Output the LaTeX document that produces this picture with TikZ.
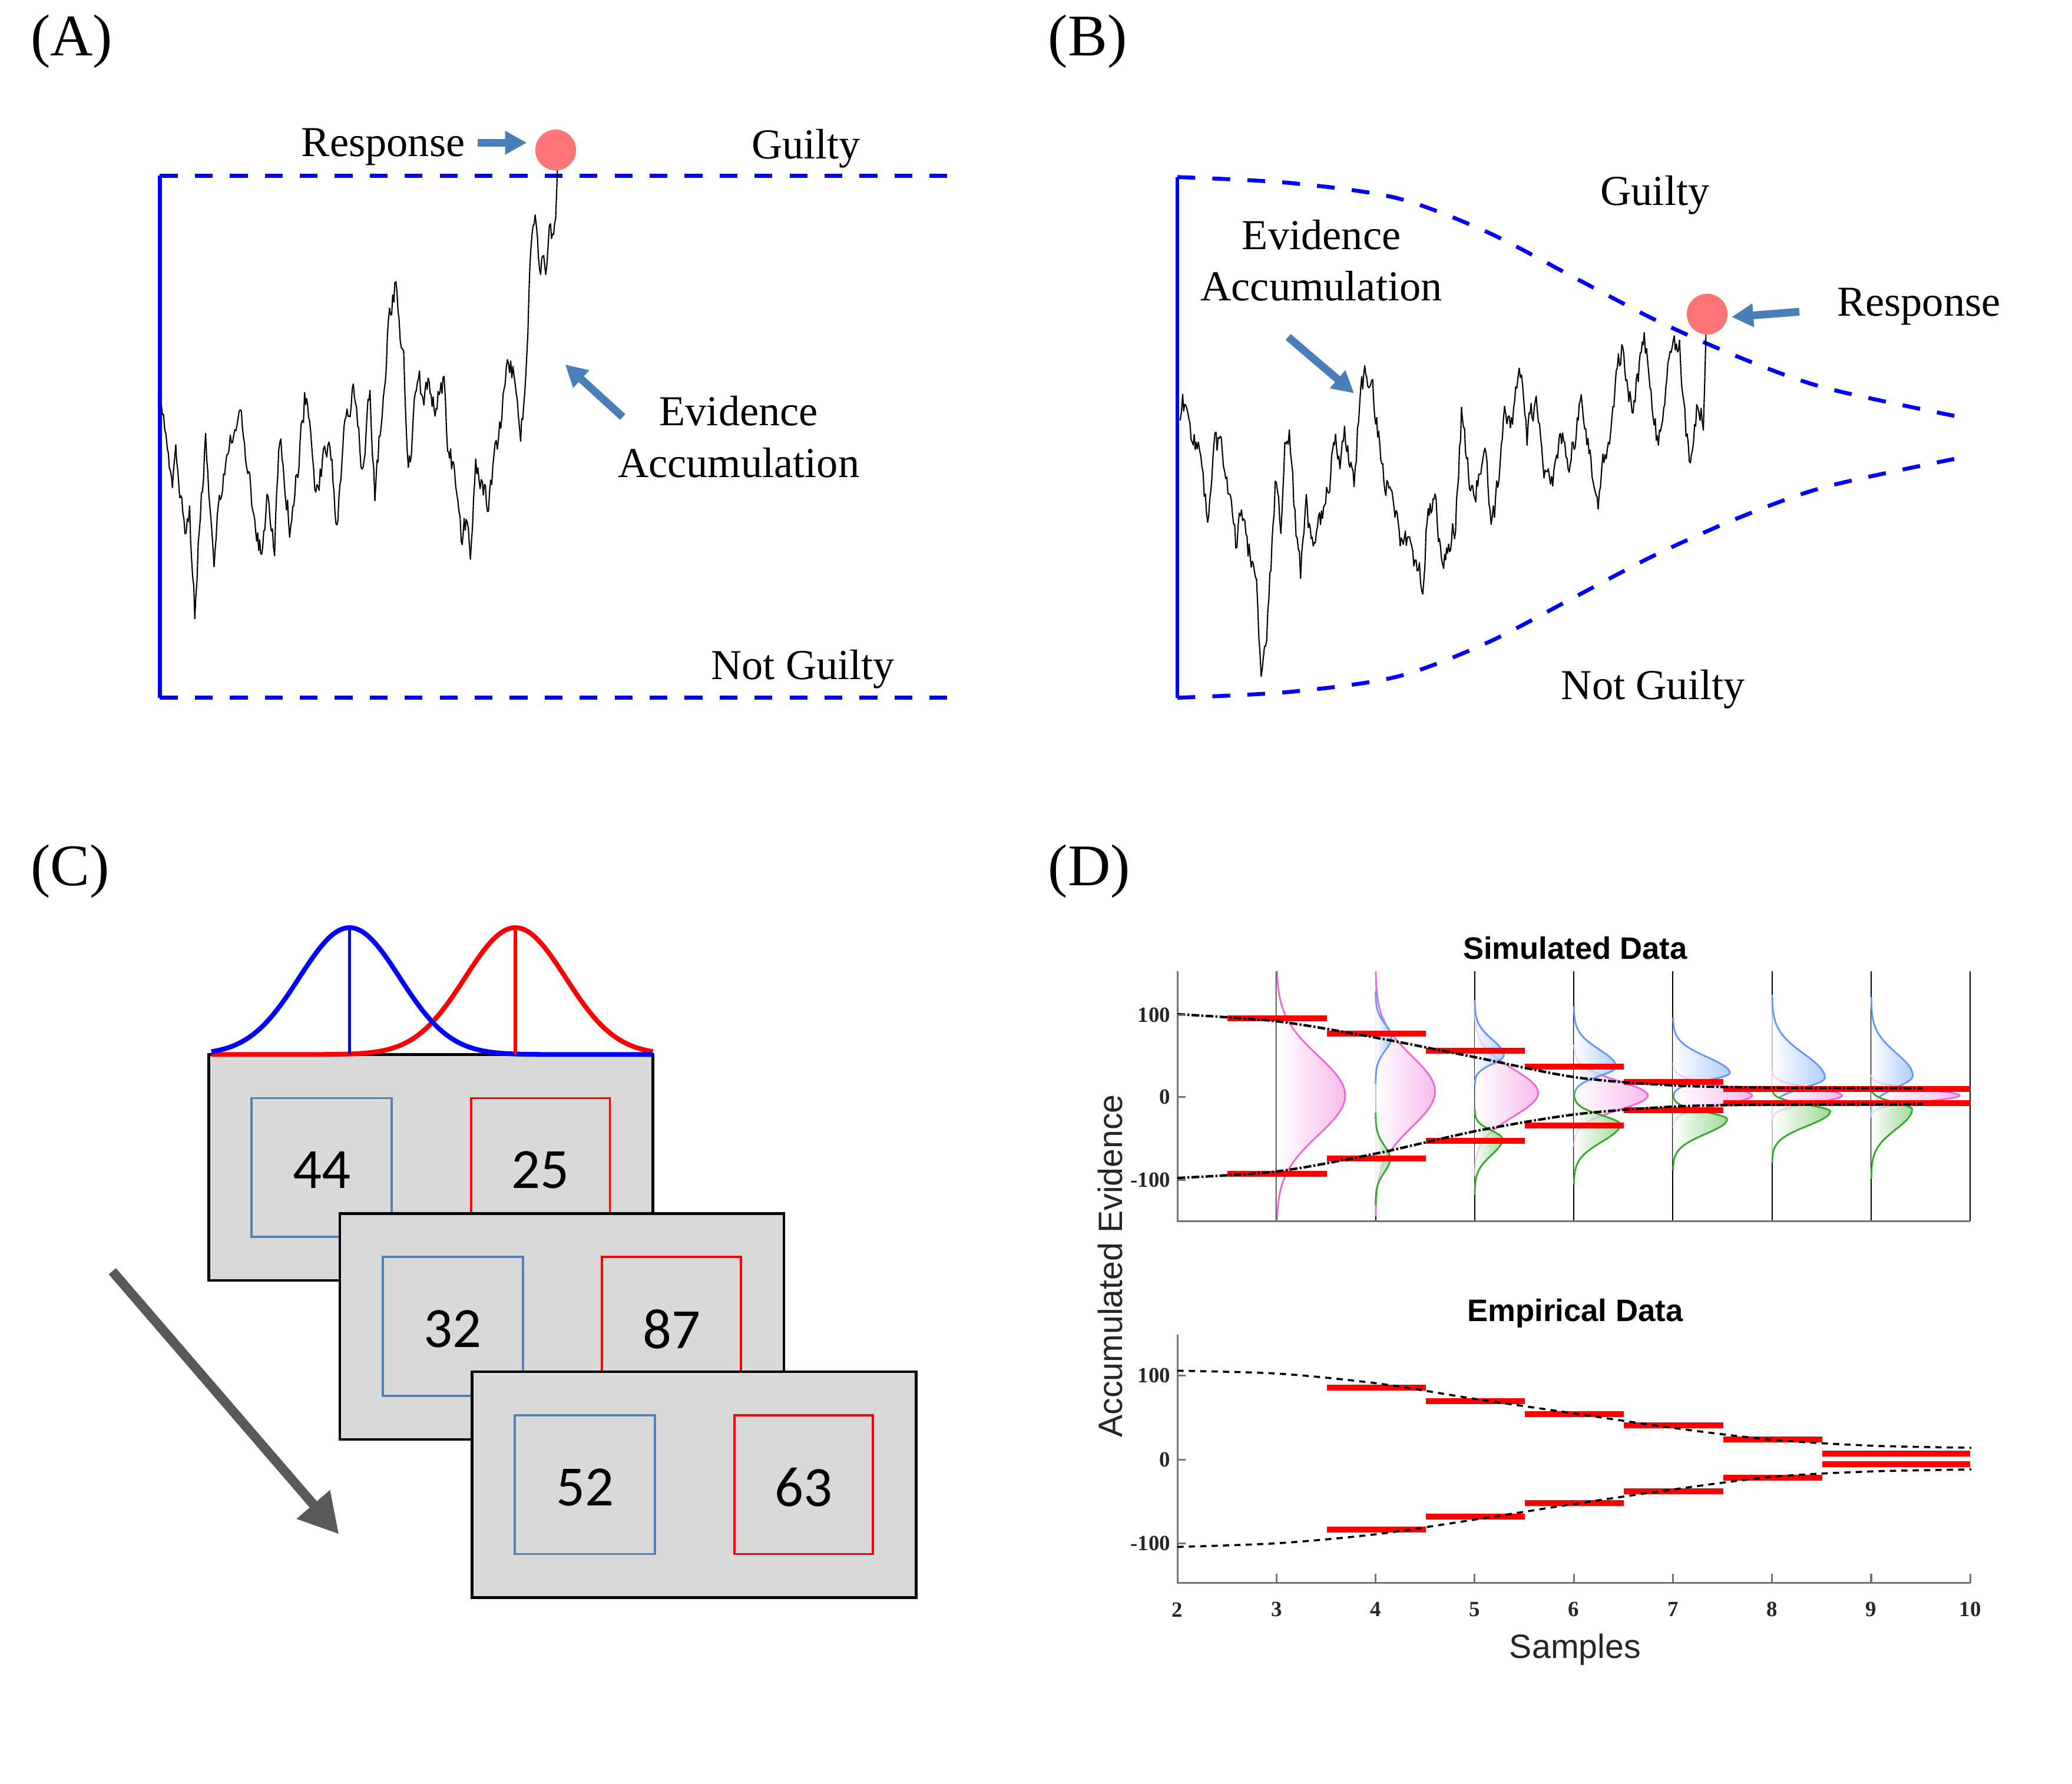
\documentclass[tikz,border=0pt]{standalone}
\usepackage{fontspec}
\setmainfont{Liberation Serif}
\newfontfamily\sansf{Liberation Sans}
\newfontfamily\cardf{Carlito}
\usetikzlibrary{arrows.meta}

\definecolor{bluearrow}{RGB}{74,126,187}
\definecolor{dotred}{RGB}{255,117,117}
\definecolor{cardgray}{RGB}{217,217,217}
\definecolor{boxblue}{RGB}{79,129,189}
\definecolor{arrowgray}{RGB}{89,89,89}
\definecolor{pinkl}{RGB}{238,102,218}
\definecolor{pinkf}{RGB}{246,165,230}
\definecolor{bluel}{RGB}{100,150,250}
\definecolor{bluef}{RGB}{150,190,255}
\definecolor{greenl}{RGB}{50,170,40}
\definecolor{greenf}{RGB}{130,205,120}
\definecolor{txtgray}{RGB}{38,38,38}

% density curve: #1 X, #2 mu, #3 sd up, #4 sd down, #5 width, #6 line colour, #7 fill colour
\newcommand{\densplot}[7]{%
  \path[left color=white, right color=#7, fill opacity=0.75]
    (#1,{#2-3.5*#3})
    -- plot[domain=-3.5:0, samples=30, variable=\t] ({#1+#5*exp(-0.5*\t*\t)},{#2+\t*#3})
    -- plot[domain=0:3.5, samples=30, variable=\t] ({#1+#5*exp(-0.5*\t*\t)},{#2+\t*#4})
    -- (#1,{#2+3.5*#4}) -- cycle;
  \draw[#6, line width=0.8pt]
    plot[domain=-3.5:0, samples=30, variable=\t] ({#1+#5*exp(-0.5*\t*\t)},{#2+\t*#3})
    -- plot[domain=0:3.5, samples=30, variable=\t] ({#1+#5*exp(-0.5*\t*\t)},{#2+\t*#4});
}

% noisy walk through anchor points: #1,#2 start, #3 list of x/y anchors
\newcommand{\jwalk}[3]{%
  \xdef\wlx{#1}\xdef\wly{#2}\xdef\wax{#1}\xdef\way{#2}\xdef\woff{0}%
  \foreach \ax/\ay in {#3}{%
    \pgfmathtruncatemacro\wn{max(2,abs(\ax-\wax)/0.75)}%
    \foreach \k in {1,...,\wn}{%
      \pgfmathsetmacro\wo{0.4*\woff+9*rand}%
      \xdef\woff{\wo}%
      \pgfmathsetmacro\wpx{\wax+(\ax-\wax)*\k/\wn}%
      \pgfmathsetmacro\wpy{\way+(\ay-\way)*\k/\wn+\wo}%
      \draw[walkline] (\wlx,\wly) -- (\wpx,\wpy);%
      \xdef\wlx{\wpx}\xdef\wly{\wpy}%
    }%
    \xdef\wax{\ax}\xdef\way{\ay}%
  }%
}

\begin{document}
\begin{tikzpicture}[x=0.22436mm, y=-0.22436mm,
  bound/.style={blue, line width=1.9pt},
  bounddash/.style={blue, line width=1.9pt, dash pattern=on 8.6pt off 8.3pt},
  walkline/.style={black, line width=0.6pt, line cap=round},
  lab/.style={font=\fontsize{20.6}{25}\selectfont, inner sep=0pt},
  panel/.style={font=\fontsize{28.5}{30}\selectfont, inner sep=0pt, anchor=base west},
  resdot/.style={circle, fill=dotred, minimum size=19.7pt, inner sep=0pt},
  barrow/.style={bluearrow, line width=3.75pt, -{Triangle[width=10.8pt,length=10.5pt]}},
  card/.style={fill=cardgray, draw=black, line width=1.3pt},
  num/.style={font=\cardf\fontsize{27.5}{30}\selectfont, inner sep=0pt},
  axis/.style={black!55, line width=0.9pt},
  sline/.style={black, line width=0.55pt},
  rbar/.style={red, line width=2.85pt},
  ddot/.style={black, line width=1.2pt, dash pattern=on 3.8pt off 1pt on 1pt off 1pt},
  dotc/.style={black, line width=1pt, dash pattern=on 3pt off 2.5pt},
  tick/.style={font=\bfseries\fontsize{10.5}{12}\selectfont, text=txtgray, inner sep=0pt},
  ttl/.style={font=\sansf\bfseries\fontsize{15}{17}\selectfont, inner sep=0pt, anchor=base},
  axlab/.style={font=\sansf\fontsize{16.3}{18}\selectfont, text=txtgray, inner sep=0pt}
]
\useasboundingbox (0,0) rectangle (1568,1350);
\pgfmathsetseed{11}

% ================= Panel A =================
\node[panel] (pA) at (23,42.3) {(A)};
\draw[bound] (121,133) -- (121,528);
\draw[bounddash] (121,133) -- (719,133);
\draw[bounddash] (121,528) -- (719,528);
\jwalk{122}{305}{123.7/310.8, 126.6/339, 130.5/375, 133/333, 136/365, 140/395, 143.5/387, 147.4/465, 150/411, 155.6/337, 158/370, 162/418, 166/380, 171.6/339, 176/330, 181/303, 187.5/359, 192/385, 198/423, 202/379.6, 207.8/415, 211.7/331, 216/370, 220/403, 227/342, 230.5/303, 235/322, 239/377, 244/350, 249/331, 255/398, 261/313, 265/305, 269/296, 274/361, 280/299, 283.7/370, 290/297, 294.8/238, 299.6/218, 302/250, 305.5/273, 309/354, 312/330, 316.6/278, 320/310, 324/290, 330/305, 336/285, 338/332.7, 344/357.7, 349/409, 352/395, 356/416, 360/348, 365/370, 369.7/384, 374.6/348, 379/323, 384/266, 389/285.8, 394/338, 398.7/270, 401/201, 405/156, 408.4/198, 413/206, 416.6/172, 420.5/176, 422/123}
\node[resdot] (dotA) at (420.5,113.5) {};
\node[lab, anchor=base] (respA) at (290,118.5) {Response};
\node[lab, anchor=base] (guiltyA) at (610,120) {Guilty};
\node[lab, align=center] (evA) at (559,330.4) {Evidence\\Accumulation};
\node[lab, anchor=base] (ngA) at (607.6,514) {Not Guilty};
\coordinate (rA1) at (361.5,108);
\coordinate (rA2) at (398.7,108);
\draw[barrow] (rA1) -- (rA2);
\coordinate (eA1) at (471.2,315.5);
\coordinate (eA2) at (427.7,275.8);
\draw[barrow] (eA1) -- (eA2);

% ================= Panel B =================
\node[panel] (pB) at (793,42.3) {(B)};
\draw[bound] (891,134) -- (891,528);
\draw[bounddash] plot[smooth] coordinates {(891,134) (975.7,138.4) (1056.7,149.8) (1125,175.4) (1193,210.9) (1252.9,242.2) (1316.8,270.6) (1380.8,293.4) (1478.9,314.7)};
\draw[bounddash] plot[smooth] coordinates {(891,528) (975.7,523.6) (1056.7,512.2) (1125,486.6) (1193,451.1) (1252.9,419.8) (1316.8,391.4) (1380.8,368.6) (1478.9,347.3)};
\jwalk{893}{318}{895/305, 898/305, 903/339, 906/330, 909.6/361.6, 913.9/385, 919.4/332, 926.7/348.8, 931/381.5, 935.2/412, 939.5/378.6, 943.7/416, 950/428, 954.4/506, 958.6/481, 965/370, 969.3/400, 972.3/338, 975.7/333, 980.8/402.8, 984.2/436, 988.5/385.8, 993/410, 997/405, 1004.7/373, 1010.7/331, 1014/352, 1017.5/326, 1024.7/361.6, 1029/306, 1032/284, 1038.8/286, 1041.8/321.8, 1048/361.6, 1053.3/373, 1058.8/405, 1065/413, 1071.6/425, 1076.7/440, 1080/391.4, 1086/380, 1091.7/428, 1101.5/395.7, 1106/315, 1112.1/367.3, 1116/375, 1123.7/329, 1128.4/406, 1133.5/367.3, 1138.6/316, 1143/325, 1147/302, 1151.4/274, 1155.6/330.3, 1162.5/299, 1167.6/355.9, 1175/365, 1182.5/330.3, 1186.7/360, 1196.6/306, 1201.7/338.8, 1209.4/393, 1213/350, 1218.8/321.8, 1223.9/275, 1227.3/267, 1235/310.4, 1239/285, 1244.3/255, 1248.6/293.4, 1255/338.8, 1261.4/282, 1267.8/261, 1271/264, 1274.2/307.6, 1278.4/350, 1284.8/304.7, 1289/317.5, 1291.2/247.9}
\node[resdot] (dotB) at (1291.9,237.7) {};
\node[lab, anchor=base] (guiltyB) at (1252.4,155.5) {Guilty};
\node[lab, align=center] (evB) at (1000,197.1) {Evidence\\Accumulation};
\node[lab, anchor=base] (respB) at (1452,239.3) {Response};
\node[lab, anchor=base] (ngB) at (1251,529.3) {Not Guilty};
\coordinate (rB1) at (1361.6,235.9);
\coordinate (rB2) at (1310.4,239.9);
\draw[barrow] (rB1) -- (rB2);
\coordinate (eB1) at (974.8,255);
\coordinate (eB2) at (1024.7,297.6);
\draw[barrow] (eB1) -- (eB2);

% ================= Panel C =================
\node[panel] (pC) at (23,670.3) {(C)};
\foreach \i/\cx/\cy/\a/\b in {1/158/798/44/25, 2/257.2/918.3/32/87, 3/357.2/1038/52/63}{
  \filldraw[card] (\cx,\cy) rectangle ++(336,171);
  \draw[boxblue, line width=1.1pt] (\cx+32.5,\cy+33) rectangle ++(106,105);
  \draw[red, line width=1.1pt] (\cx+198.5,\cy+33) rectangle ++(105,105);
  \node[num] (na\i) at (\cx+85.5,\cy+87.5) {\a};
  \node[num] (nb\i) at (\cx+251,\cy+87.5) {\b};
}
\draw[red, line width=2.3pt] plot[domain=160:494, samples=150] (\x, {798 - 96*exp(-0.5*((\x-390)/38)^2)});
\draw[blue, line width=2.3pt] plot[domain=160:494, samples=150] (\x, {798 - 96*exp(-0.5*((\x-264.5)/38)^2)});
\draw[blue, line width=1.65pt] (264.5,702) -- (264.5,798);
\draw[red, line width=1.65pt] (390,702) -- (390,798);
\coordinate (gA) at (85,962);
\coordinate (gB) at (256.5,1161);
\draw[arrowgray, line width=4.6pt, -{Triangle[width=20pt,length=19pt]}] (gA) -- (gB);

% ================= Panel D =================
\node[panel] (pD) at (793,670.3) {(D)};
% --- top plot
\node[ttl] (tsim) at (1192,726) {Simulated Data};
\foreach \s in {3,...,10}{
  \draw[sline] ({891+75*(\s-2)},735) -- ({891+75*(\s-2)},924);
}
\begin{scope}
\clip (891,735) rectangle (1492,924);
% pink
\densplot{966}{829}{30}{30}{52}{pinkl}{pinkf}
\densplot{1041}{826}{27}{27}{45}{pinkl}{pinkf}
\densplot{1116}{827}{18}{18}{48}{pinkl}{pinkf}
\densplot{1191}{829}{11}{11}{56}{pinkl}{pinkf}
\densplot{1266}{829}{7}{7}{60}{pinkl}{pinkf}
\densplot{1341}{829}{5.5}{5.5}{53}{pinkl}{pinkf}
\densplot{1416}{829}{4.5}{4.5}{67}{pinkl}{pinkf}
% blue
\densplot{1041}{785}{10}{10}{12}{bluel}{bluef}
\densplot{1116}{798.7}{12}{6.5}{22}{bluel}{bluef}
\densplot{1191}{807.3}{13}{7}{32}{bluel}{bluef}
\densplot{1266}{812}{12}{5.5}{43}{bluel}{bluef}
\densplot{1341}{815.6}{18}{7.5}{40}{bluel}{bluef}
\densplot{1416}{814}{17}{9}{31.5}{bluel}{bluef}
% green
\densplot{1041}{877}{10}{10}{11}{greenl}{greenf}
\densplot{1116}{862}{6.5}{12}{21}{greenl}{greenf}
\densplot{1191}{851}{7}{13}{35}{greenl}{greenf}
\densplot{1266}{847}{5.5}{11}{41}{greenl}{greenf}
\densplot{1341}{841}{5}{11}{44}{greenl}{greenf}
\densplot{1416}{839.5}{5}{15}{31}{greenl}{greenf}
\end{scope}
\draw[axis] (891,735) -- (891,924) -- (1491,924);
% bars
\draw[rbar] (929,770.8) -- (1004,770.8);
\draw[rbar] (1004,782.3) -- (1079,782.3);
\draw[rbar] (1079,795.3) -- (1154,795.3);
\draw[rbar] (1154,807.3) -- (1229,807.3);
\draw[rbar] (1229,818.8) -- (1304,818.8);
\draw[rbar] (1304,824.2) -- (1491,824.2);
\draw[rbar] (929,888.3) -- (1004,888.3);
\draw[rbar] (1004,876.6) -- (1079,876.6);
\draw[rbar] (1079,863.3) -- (1154,863.3);
\draw[rbar] (1154,851.9) -- (1229,851.9);
\draw[rbar] (1229,840.2) -- (1304,840.2);
\draw[rbar] (1304,834.7) -- (1491,834.7);
\draw[ddot] plot[smooth] coordinates {(891,767.5) (967.4,773) (1042.4,785.5) (1117.5,800.3) (1192,815.2) (1267,821.4) (1342,823) (1455,823.4)};
\draw[ddot] plot[smooth] coordinates {(891,891.4) (967.4,886.3) (1042.4,872.7) (1117.5,855.8) (1192,843.3) (1267,837.4) (1342,835.9) (1455,835.5)};
\foreach \i/\yv/\lab in {1/768/100, 2/830/0, 3/893/-100}{
  \draw[axis] (891,\yv) -- (897,\yv);
  \node[tick, anchor=east] (ytt\i) at (886,\yv) {\lab};
}
% --- bottom plot
\node[ttl] (temp) at (1192,1000) {Empirical Data};
\draw[axis] (891,1010) -- (891,1198) -- (1491,1198);
\foreach \s in {3,...,10}{
  \draw[axis] ({891+75*(\s-2)},1198) -- ({891+75*(\s-2)},1191);
}
\foreach \s in {2,...,10}{
  \node[tick] (xt\s) at ({891+75*(\s-2)},1218) {\s};
}
\foreach \i/\yv/\lab in {1/1041/100, 2/1104.5/0, 3/1168/-100}{
  \draw[axis] (891,\yv) -- (897,\yv);
  \node[tick, anchor=east] (ytb\i) at (886,\yv) {\lab};
}
\draw[rbar] (1004,1050.2) -- (1079,1050.2);
\draw[rbar] (1079,1060.2) -- (1154,1060.2);
\draw[rbar] (1154,1070.1) -- (1229,1070.1);
\draw[rbar] (1229,1078.7) -- (1304,1078.7);
\draw[rbar] (1304,1089.2) -- (1379,1089.2);
\draw[rbar] (1379,1100) -- (1491,1100);
\draw[rbar] (1004,1157.3) -- (1079,1157.3);
\draw[rbar] (1079,1147.5) -- (1154,1147.5);
\draw[rbar] (1154,1137.4) -- (1229,1137.4);
\draw[rbar] (1229,1128.6) -- (1304,1128.6);
\draw[rbar] (1304,1118.1) -- (1379,1118.1);
\draw[rbar] (1379,1108) -- (1491,1108);
\draw[dotc] plot[smooth] coordinates {(891,1037.3) (967.4,1039.5) (1042.4,1046.9) (1117.5,1058.8) (1192,1069.7) (1267,1080.7) (1342,1089.6) (1416,1094) (1491.8,1095.6)};
\draw[dotc] plot[smooth] coordinates {(891,1170.6) (967.4,1167.8) (1042.4,1160.9) (1117.5,1149.7) (1192,1138) (1267,1127) (1342,1117.5) (1416,1113.5) (1491.8,1112)};
\node[axlab, anchor=base] (xlab) at (1192,1255) {Samples};
\node[axlab, rotate=90] (ylab) at (840,958) {Accumulated Evidence};
\end{tikzpicture}
\end{document}
